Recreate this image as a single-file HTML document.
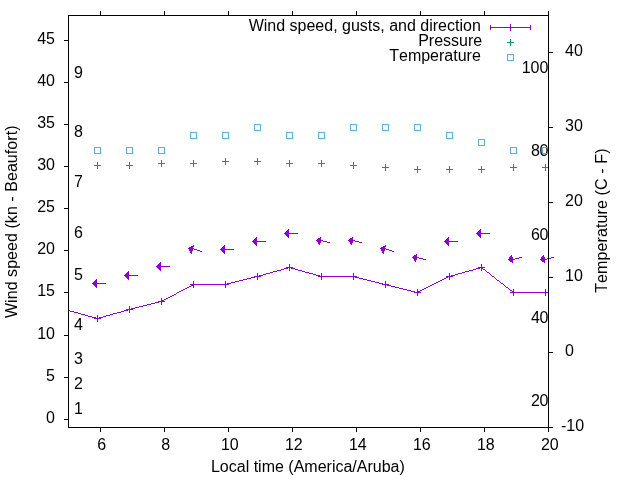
<!DOCTYPE html>
<html><head><meta charset="utf-8"><style>
html,body{margin:0;padding:0;background:#fff;}
svg{display:block;will-change:transform;}
text{font-family:"Liberation Sans",sans-serif;font-size:16px;fill:#000;font-kerning:none;font-feature-settings:"kern" 0;}
</style></head><body>
<svg width="640" height="480" viewBox="0 0 640 480">
<rect x="0" y="0" width="640" height="480" fill="#fff"/>
<g>
<text x="55.00" y="423.00" text-anchor="end">0</text><text x="55.00" y="381.00" text-anchor="end">5</text><text x="55.00" y="339.00" text-anchor="end">10</text><text x="55.00" y="296.00" text-anchor="end">15</text><text x="55.00" y="254.00" text-anchor="end">20</text><text x="55.00" y="212.00" text-anchor="end">25</text><text x="55.00" y="170.00" text-anchor="end">30</text><text x="55.00" y="128.00" text-anchor="end">35</text><text x="55.00" y="86.00" text-anchor="end">40</text><text x="55.00" y="44.00" text-anchor="end">45</text><text x="561.00" y="431.00" text-anchor="start">-10</text><text x="565.00" y="356.00" text-anchor="start">0</text><text x="565.00" y="281.00" text-anchor="start">10</text><text x="565.00" y="206.00" text-anchor="start">20</text><text x="565.00" y="131.00" text-anchor="start">30</text><text x="565.00" y="56.00" text-anchor="start">40</text><text x="101.80" y="450.00" text-anchor="middle">6</text><text x="165.80" y="450.00" text-anchor="middle">8</text><text x="229.80" y="450.00" text-anchor="middle">10</text><text x="293.80" y="450.00" text-anchor="middle">12</text><text x="357.80" y="450.00" text-anchor="middle">14</text><text x="421.80" y="450.00" text-anchor="middle">16</text><text x="485.80" y="450.00" text-anchor="middle">18</text><text x="549.80" y="450.00" text-anchor="middle">20</text><text x="74.00" y="414.00" text-anchor="start">1</text><text x="74.00" y="389.00" text-anchor="start">2</text><text x="74.00" y="364.00" text-anchor="start">3</text><text x="74.00" y="330.00" text-anchor="start">4</text><text x="74.00" y="280.00" text-anchor="start">5</text><text x="74.00" y="238.00" text-anchor="start">6</text><text x="74.00" y="187.00" text-anchor="start">7</text><text x="74.00" y="137.00" text-anchor="start">8</text><text x="74.00" y="78.00" text-anchor="start">9</text><text x="548.30" y="406.00" text-anchor="end" textLength="17.2" lengthAdjust="spacing">20</text><text x="548.30" y="323.00" text-anchor="end" textLength="17.2" lengthAdjust="spacing">40</text><text x="548.30" y="240.00" text-anchor="end" textLength="17.2" lengthAdjust="spacing">60</text><text x="548.30" y="156.00" text-anchor="end" textLength="17.2" lengthAdjust="spacing">80</text><text x="548.30" y="73.00" text-anchor="end" textLength="26.45" lengthAdjust="spacing">100</text><text x="307.90" y="472.00" text-anchor="middle">Local time (America/Aruba)</text><text transform="translate(17,221.8) rotate(-90)" text-anchor="middle" textLength="192.6" lengthAdjust="spacing">Wind speed (kn - Beaufort)</text><text transform="translate(607,220.65) rotate(-90)" text-anchor="middle" textLength="144.3" lengthAdjust="spacing">Temperature (C - F)</text><text x="480.80" y="31.00" text-anchor="end">Wind speed, gusts, and direction</text><text x="482.20" y="46.00" text-anchor="end">Pressure</text><text x="480.80" y="61.00" text-anchor="end">Temperature</text>
</g>
<g shape-rendering="crispEdges">
<path d="M510 24h1v1h-1zM490 25h1v1h-1zM510 25h1v1h-1zM530 25h1v1h-1zM490 26h1v1h-1zM510 26h1v1h-1zM530 26h1v1h-1zM490 27h41v1h-41zM490 28h1v1h-1zM510 28h1v1h-1zM530 28h1v1h-1zM490 29h1v1h-1zM510 29h1v1h-1zM530 29h1v1h-1zM510 30h1v1h-1zM288 229h1v1h-1zM480 229h1v1h-1zM287 230h2v1h-2zM479 230h2v1h-2zM286 231h3v1h-3zM478 231h3v1h-3zM285 232h4v1h-4zM477 232h4v1h-4zM284 233h14v1h-14zM476 233h14v1h-14zM285 234h4v1h-4zM477 234h4v1h-4zM286 235h3v1h-3zM478 235h3v1h-3zM287 236h2v1h-2zM479 236h2v1h-2zM256 237h1v1h-1zM288 237h1v1h-1zM320 237h1v1h-1zM352 237h1v1h-1zM448 237h1v1h-1zM480 237h1v1h-1zM255 238h2v1h-2zM318 238h3v1h-3zM350 238h3v1h-3zM447 238h2v1h-2zM254 239h3v1h-3zM317 239h4v1h-4zM349 239h4v1h-4zM446 239h3v1h-3zM253 240h4v1h-4zM316 240h7v1h-7zM348 240h7v1h-7zM445 240h4v1h-4zM252 241h14v1h-14zM317 241h4v1h-4zM323 241h4v1h-4zM349 241h4v1h-4zM355 241h4v1h-4zM444 241h14v1h-14zM253 242h4v1h-4zM318 242h3v1h-3zM327 242h3v1h-3zM350 242h3v1h-3zM359 242h3v1h-3zM445 242h4v1h-4zM254 243h3v1h-3zM318 243h2v1h-2zM350 243h2v1h-2zM446 243h3v1h-3zM255 244h2v1h-2zM319 244h1v1h-1zM351 244h1v1h-1zM447 244h2v1h-2zM193 245h1v1h-1zM224 245h1v1h-1zM256 245h1v1h-1zM385 245h1v1h-1zM448 245h1v1h-1zM191 246h3v1h-3zM223 246h2v1h-2zM383 246h3v1h-3zM189 247h4v1h-4zM222 247h3v1h-3zM381 247h4v1h-4zM188 248h6v1h-6zM221 248h4v1h-4zM380 248h6v1h-6zM189 249h4v1h-4zM194 249h3v1h-3zM220 249h14v1h-14zM381 249h4v1h-4zM386 249h3v1h-3zM189 250h4v1h-4zM197 250h3v1h-3zM221 250h4v1h-4zM381 250h4v1h-4zM389 250h3v1h-3zM190 251h2v1h-2zM200 251h2v1h-2zM222 251h3v1h-3zM382 251h2v1h-2zM392 251h2v1h-2zM190 252h2v1h-2zM223 252h2v1h-2zM382 252h2v1h-2zM191 253h1v1h-1zM224 253h1v1h-1zM383 253h1v1h-1zM416 254h1v1h-1zM414 255h3v1h-3zM511 255h1v1h-1zM543 255h1v1h-1zM413 256h4v1h-4zM510 256h2v1h-2zM542 256h2v1h-2zM412 257h7v1h-7zM509 257h4v1h-4zM519 257h3v1h-3zM541 257h4v1h-4zM551 257h3v1h-3zM413 258h4v1h-4zM419 258h4v1h-4zM509 258h4v1h-4zM515 258h4v1h-4zM541 258h4v1h-4zM547 258h4v1h-4zM414 259h3v1h-3zM423 259h3v1h-3zM508 259h7v1h-7zM540 259h7v1h-7zM414 260h2v1h-2zM509 260h4v1h-4zM541 260h4v1h-4zM415 261h1v1h-1zM510 261h3v1h-3zM542 261h3v1h-3zM160 262h1v1h-1zM512 262h1v1h-1zM544 262h1v1h-1zM159 263h2v1h-2zM158 264h3v1h-3zM289 264h1v1h-1zM481 264h1v1h-1zM157 265h4v1h-4zM289 265h1v1h-1zM481 265h1v1h-1zM156 266h14v1h-14zM289 266h1v1h-1zM481 266h1v1h-1zM157 267h4v1h-4zM286 267h7v1h-7zM478 267h7v1h-7zM158 268h3v1h-3zM284 268h4v1h-4zM289 268h1v1h-1zM291 268h4v1h-4zM476 268h4v1h-4zM481 268h2v1h-2zM159 269h2v1h-2zM281 269h3v1h-3zM289 269h1v1h-1zM295 269h3v1h-3zM473 269h3v1h-3zM481 269h1v1h-1zM483 269h2v1h-2zM160 270h1v1h-1zM277 270h4v1h-4zM289 270h1v1h-1zM298 270h4v1h-4zM469 270h4v1h-4zM481 270h1v1h-1zM485 270h1v1h-1zM128 271h1v1h-1zM273 271h4v1h-4zM302 271h3v1h-3zM465 271h4v1h-4zM486 271h1v1h-1zM127 272h2v1h-2zM270 272h3v1h-3zM305 272h4v1h-4zM462 272h3v1h-3zM487 272h2v1h-2zM126 273h3v1h-3zM257 273h1v1h-1zM266 273h4v1h-4zM309 273h4v1h-4zM321 273h1v1h-1zM353 273h1v1h-1zM449 273h1v1h-1zM458 273h4v1h-4zM489 273h1v1h-1zM125 274h4v1h-4zM257 274h1v1h-1zM263 274h3v1h-3zM313 274h3v1h-3zM321 274h1v1h-1zM353 274h1v1h-1zM449 274h1v1h-1zM455 274h3v1h-3zM490 274h1v1h-1zM124 275h14v1h-14zM257 275h1v1h-1zM259 275h4v1h-4zM316 275h4v1h-4zM321 275h1v1h-1zM353 275h1v1h-1zM449 275h1v1h-1zM451 275h4v1h-4zM491 275h1v1h-1zM125 276h4v1h-4zM254 276h7v1h-7zM318 276h39v1h-39zM446 276h7v1h-7zM492 276h2v1h-2zM126 277h3v1h-3zM251 277h4v1h-4zM257 277h1v1h-1zM321 277h1v1h-1zM353 277h1v1h-1zM355 277h4v1h-4zM446 277h2v1h-2zM449 277h1v1h-1zM494 277h1v1h-1zM127 278h2v1h-2zM247 278h4v1h-4zM257 278h1v1h-1zM321 278h1v1h-1zM353 278h1v1h-1zM359 278h4v1h-4zM444 278h2v1h-2zM449 278h1v1h-1zM495 278h1v1h-1zM96 279h1v1h-1zM128 279h1v1h-1zM243 279h4v1h-4zM257 279h1v1h-1zM321 279h1v1h-1zM353 279h1v1h-1zM363 279h4v1h-4zM442 279h2v1h-2zM449 279h1v1h-1zM496 279h1v1h-1zM95 280h2v1h-2zM239 280h4v1h-4zM367 280h4v1h-4zM440 280h2v1h-2zM497 280h2v1h-2zM94 281h3v1h-3zM193 281h1v1h-1zM225 281h1v1h-1zM235 281h4v1h-4zM371 281h4v1h-4zM385 281h1v1h-1zM438 281h2v1h-2zM499 281h1v1h-1zM93 282h4v1h-4zM193 282h1v1h-1zM225 282h1v1h-1zM231 282h4v1h-4zM375 282h4v1h-4zM385 282h1v1h-1zM436 282h2v1h-2zM500 282h1v1h-1zM92 283h14v1h-14zM193 283h1v1h-1zM225 283h1v1h-1zM227 283h4v1h-4zM379 283h4v1h-4zM385 283h1v1h-1zM434 283h2v1h-2zM501 283h2v1h-2zM93 284h4v1h-4zM190 284h39v1h-39zM382 284h7v1h-7zM432 284h2v1h-2zM503 284h1v1h-1zM94 285h3v1h-3zM191 285h3v1h-3zM225 285h1v1h-1zM385 285h1v1h-1zM387 285h4v1h-4zM430 285h2v1h-2zM504 285h1v1h-1zM95 286h2v1h-2zM189 286h2v1h-2zM193 286h1v1h-1zM225 286h1v1h-1zM385 286h1v1h-1zM391 286h4v1h-4zM428 286h2v1h-2zM505 286h1v1h-1zM96 287h1v1h-1zM187 287h2v1h-2zM193 287h1v1h-1zM225 287h1v1h-1zM385 287h1v1h-1zM395 287h4v1h-4zM426 287h2v1h-2zM506 287h2v1h-2zM185 288h2v1h-2zM399 288h4v1h-4zM424 288h2v1h-2zM508 288h1v1h-1zM183 289h2v1h-2zM403 289h4v1h-4zM417 289h1v1h-1zM422 289h2v1h-2zM509 289h1v1h-1zM513 289h1v1h-1zM545 289h1v1h-1zM181 290h2v1h-2zM407 290h4v1h-4zM417 290h1v1h-1zM420 290h2v1h-2zM510 290h2v1h-2zM513 290h1v1h-1zM545 290h1v1h-1zM179 291h2v1h-2zM411 291h4v1h-4zM417 291h3v1h-3zM512 291h2v1h-2zM545 291h1v1h-1zM177 292h2v1h-2zM414 292h7v1h-7zM510 292h39v1h-39zM176 293h1v1h-1zM417 293h1v1h-1zM513 293h1v1h-1zM545 293h1v1h-1zM174 294h2v1h-2zM417 294h1v1h-1zM513 294h1v1h-1zM545 294h1v1h-1zM172 295h2v1h-2zM417 295h1v1h-1zM513 295h1v1h-1zM545 295h1v1h-1zM170 296h2v1h-2zM168 297h2v1h-2zM161 298h1v1h-1zM166 298h2v1h-2zM161 299h1v1h-1zM164 299h2v1h-2zM161 300h3v1h-3zM158 301h7v1h-7zM155 302h4v1h-4zM161 302h1v1h-1zM151 303h4v1h-4zM161 303h1v1h-1zM147 304h4v1h-4zM161 304h1v1h-1zM143 305h4v1h-4zM129 306h1v1h-1zM139 306h4v1h-4zM129 307h1v1h-1zM135 307h4v1h-4zM129 308h1v1h-1zM131 308h4v1h-4zM126 309h7v1h-7zM68 310h2v1h-2zM124 310h4v1h-4zM129 310h1v1h-1zM70 311h4v1h-4zM121 311h3v1h-3zM129 311h1v1h-1zM74 312h4v1h-4zM117 312h4v1h-4zM129 312h1v1h-1zM78 313h3v1h-3zM113 313h4v1h-4zM81 314h4v1h-4zM110 314h3v1h-3zM85 315h3v1h-3zM97 315h1v1h-1zM106 315h4v1h-4zM88 316h4v1h-4zM97 316h1v1h-1zM103 316h3v1h-3zM92 317h4v1h-4zM97 317h1v1h-1zM99 317h4v1h-4zM94 318h7v1h-7zM97 319h1v1h-1zM97 320h1v1h-1zM97 321h1v1h-1z" fill="#9400d3"/><path d="M510 39h1v1h-1zM510 40h1v1h-1zM510 41h1v1h-1zM507 42h7v1h-7zM510 43h1v1h-1zM510 44h1v1h-1zM510 45h1v1h-1zM225 158h1v1h-1zM257 158h1v1h-1zM225 159h1v1h-1zM257 159h1v1h-1zM161 160h1v1h-1zM193 160h1v1h-1zM225 160h1v1h-1zM257 160h1v1h-1zM289 160h1v1h-1zM321 160h1v1h-1zM161 161h1v1h-1zM193 161h1v1h-1zM222 161h7v1h-7zM254 161h7v1h-7zM289 161h1v1h-1zM321 161h1v1h-1zM97 162h1v1h-1zM129 162h1v1h-1zM161 162h1v1h-1zM193 162h1v1h-1zM225 162h1v1h-1zM257 162h1v1h-1zM289 162h1v1h-1zM321 162h1v1h-1zM353 162h1v1h-1zM97 163h1v1h-1zM129 163h1v1h-1zM158 163h7v1h-7zM190 163h7v1h-7zM225 163h1v1h-1zM257 163h1v1h-1zM286 163h7v1h-7zM318 163h7v1h-7zM353 163h1v1h-1zM97 164h1v1h-1zM129 164h1v1h-1zM161 164h1v1h-1zM193 164h1v1h-1zM225 164h1v1h-1zM257 164h1v1h-1zM289 164h1v1h-1zM321 164h1v1h-1zM353 164h1v1h-1zM385 164h1v1h-1zM513 164h1v1h-1zM545 164h1v1h-1zM94 165h7v1h-7zM126 165h7v1h-7zM161 165h1v1h-1zM193 165h1v1h-1zM289 165h1v1h-1zM321 165h1v1h-1zM350 165h7v1h-7zM385 165h1v1h-1zM513 165h1v1h-1zM545 165h1v1h-1zM97 166h1v1h-1zM129 166h1v1h-1zM161 166h1v1h-1zM193 166h1v1h-1zM289 166h1v1h-1zM321 166h1v1h-1zM353 166h1v1h-1zM385 166h1v1h-1zM417 166h1v1h-1zM449 166h1v1h-1zM481 166h1v1h-1zM513 166h1v1h-1zM545 166h1v1h-1zM97 167h1v1h-1zM129 167h1v1h-1zM353 167h1v1h-1zM382 167h7v1h-7zM417 167h1v1h-1zM449 167h1v1h-1zM481 167h1v1h-1zM510 167h7v1h-7zM542 167h7v1h-7zM97 168h1v1h-1zM129 168h1v1h-1zM353 168h1v1h-1zM385 168h1v1h-1zM417 168h1v1h-1zM449 168h1v1h-1zM481 168h1v1h-1zM513 168h1v1h-1zM545 168h1v1h-1zM385 169h1v1h-1zM414 169h7v1h-7zM446 169h7v1h-7zM478 169h7v1h-7zM513 169h1v1h-1zM545 169h1v1h-1zM385 170h1v1h-1zM417 170h1v1h-1zM449 170h1v1h-1zM481 170h1v1h-1zM513 170h1v1h-1zM545 170h1v1h-1zM417 171h1v1h-1zM449 171h1v1h-1zM481 171h1v1h-1zM417 172h1v1h-1zM449 172h1v1h-1zM481 172h1v1h-1z" fill="#009e73"/><path d="M507 54h7v1h-7zM507 55h1v1h-1zM513 55h1v1h-1zM507 56h1v1h-1zM513 56h1v1h-1zM507 57h1v1h-1zM513 57h1v1h-1zM507 58h1v1h-1zM513 58h1v1h-1zM507 59h1v1h-1zM513 59h1v1h-1zM507 60h7v1h-7zM254 124h7v1h-7zM350 124h7v1h-7zM382 124h7v1h-7zM414 124h7v1h-7zM254 125h1v1h-1zM260 125h1v1h-1zM350 125h1v1h-1zM356 125h1v1h-1zM382 125h1v1h-1zM388 125h1v1h-1zM414 125h1v1h-1zM420 125h1v1h-1zM254 126h1v1h-1zM260 126h1v1h-1zM350 126h1v1h-1zM356 126h1v1h-1zM382 126h1v1h-1zM388 126h1v1h-1zM414 126h1v1h-1zM420 126h1v1h-1zM254 127h1v1h-1zM260 127h1v1h-1zM350 127h1v1h-1zM356 127h1v1h-1zM382 127h1v1h-1zM388 127h1v1h-1zM414 127h1v1h-1zM420 127h1v1h-1zM254 128h1v1h-1zM260 128h1v1h-1zM350 128h1v1h-1zM356 128h1v1h-1zM382 128h1v1h-1zM388 128h1v1h-1zM414 128h1v1h-1zM420 128h1v1h-1zM254 129h1v1h-1zM260 129h1v1h-1zM350 129h1v1h-1zM356 129h1v1h-1zM382 129h1v1h-1zM388 129h1v1h-1zM414 129h1v1h-1zM420 129h1v1h-1zM254 130h7v1h-7zM350 130h7v1h-7zM382 130h7v1h-7zM414 130h7v1h-7zM190 132h7v1h-7zM222 132h7v1h-7zM286 132h7v1h-7zM318 132h7v1h-7zM446 132h7v1h-7zM190 133h1v1h-1zM196 133h1v1h-1zM222 133h1v1h-1zM228 133h1v1h-1zM286 133h1v1h-1zM292 133h1v1h-1zM318 133h1v1h-1zM324 133h1v1h-1zM446 133h1v1h-1zM452 133h1v1h-1zM190 134h1v1h-1zM196 134h1v1h-1zM222 134h1v1h-1zM228 134h1v1h-1zM286 134h1v1h-1zM292 134h1v1h-1zM318 134h1v1h-1zM324 134h1v1h-1zM446 134h1v1h-1zM452 134h1v1h-1zM190 135h1v1h-1zM196 135h1v1h-1zM222 135h1v1h-1zM228 135h1v1h-1zM286 135h1v1h-1zM292 135h1v1h-1zM318 135h1v1h-1zM324 135h1v1h-1zM446 135h1v1h-1zM452 135h1v1h-1zM190 136h1v1h-1zM196 136h1v1h-1zM222 136h1v1h-1zM228 136h1v1h-1zM286 136h1v1h-1zM292 136h1v1h-1zM318 136h1v1h-1zM324 136h1v1h-1zM446 136h1v1h-1zM452 136h1v1h-1zM190 137h1v1h-1zM196 137h1v1h-1zM222 137h1v1h-1zM228 137h1v1h-1zM286 137h1v1h-1zM292 137h1v1h-1zM318 137h1v1h-1zM324 137h1v1h-1zM446 137h1v1h-1zM452 137h1v1h-1zM190 138h7v1h-7zM222 138h7v1h-7zM286 138h7v1h-7zM318 138h7v1h-7zM446 138h7v1h-7zM478 139h7v1h-7zM478 140h1v1h-1zM484 140h1v1h-1zM478 141h1v1h-1zM484 141h1v1h-1zM478 142h1v1h-1zM484 142h1v1h-1zM478 143h1v1h-1zM484 143h1v1h-1zM478 144h1v1h-1zM484 144h1v1h-1zM478 145h7v1h-7zM94 147h7v1h-7zM126 147h7v1h-7zM158 147h7v1h-7zM510 147h7v1h-7zM542 147h7v1h-7zM94 148h1v1h-1zM100 148h1v1h-1zM126 148h1v1h-1zM132 148h1v1h-1zM158 148h1v1h-1zM164 148h1v1h-1zM510 148h1v1h-1zM516 148h1v1h-1zM542 148h1v1h-1zM548 148h1v1h-1zM94 149h1v1h-1zM100 149h1v1h-1zM126 149h1v1h-1zM132 149h1v1h-1zM158 149h1v1h-1zM164 149h1v1h-1zM510 149h1v1h-1zM516 149h1v1h-1zM542 149h1v1h-1zM548 149h1v1h-1zM94 150h1v1h-1zM100 150h1v1h-1zM126 150h1v1h-1zM132 150h1v1h-1zM158 150h1v1h-1zM164 150h1v1h-1zM510 150h1v1h-1zM516 150h1v1h-1zM542 150h1v1h-1zM548 150h1v1h-1zM94 151h1v1h-1zM100 151h1v1h-1zM126 151h1v1h-1zM132 151h1v1h-1zM158 151h1v1h-1zM164 151h1v1h-1zM510 151h1v1h-1zM516 151h1v1h-1zM542 151h1v1h-1zM548 151h1v1h-1zM94 152h1v1h-1zM100 152h1v1h-1zM126 152h1v1h-1zM132 152h1v1h-1zM158 152h1v1h-1zM164 152h1v1h-1zM510 152h1v1h-1zM516 152h1v1h-1zM542 152h1v1h-1zM548 152h1v1h-1zM94 153h7v1h-7zM126 153h7v1h-7zM158 153h7v1h-7zM510 153h7v1h-7zM542 153h7v1h-7z" fill="#56b4e9"/><path d="M100 11h1v1h-1zM164 11h1v1h-1zM228 11h1v1h-1zM292 11h1v1h-1zM356 11h1v1h-1zM420 11h1v1h-1zM484 11h1v1h-1zM548 11h1v1h-1zM100 12h1v1h-1zM164 12h1v1h-1zM228 12h1v1h-1zM292 12h1v1h-1zM356 12h1v1h-1zM420 12h1v1h-1zM484 12h1v1h-1zM548 12h1v1h-1zM100 13h1v1h-1zM164 13h1v1h-1zM228 13h1v1h-1zM292 13h1v1h-1zM356 13h1v1h-1zM420 13h1v1h-1zM484 13h1v1h-1zM548 13h1v1h-1zM100 14h1v1h-1zM164 14h1v1h-1zM228 14h1v1h-1zM292 14h1v1h-1zM356 14h1v1h-1zM420 14h1v1h-1zM484 14h1v1h-1zM548 14h1v1h-1zM68 15h481v1h-481zM68 16h1v1h-1zM548 16h1v1h-1zM68 17h1v1h-1zM548 17h1v1h-1zM68 18h1v1h-1zM548 18h1v1h-1zM68 19h1v1h-1zM548 19h1v1h-1zM68 20h1v1h-1zM548 20h1v1h-1zM68 21h1v1h-1zM548 21h1v1h-1zM68 22h1v1h-1zM548 22h1v1h-1zM68 23h1v1h-1zM548 23h1v1h-1zM68 24h1v1h-1zM548 24h1v1h-1zM68 25h1v1h-1zM548 25h1v1h-1zM68 26h1v1h-1zM548 26h1v1h-1zM68 27h1v1h-1zM548 27h1v1h-1zM68 28h1v1h-1zM548 28h1v1h-1zM68 29h1v1h-1zM548 29h1v1h-1zM68 30h1v1h-1zM548 30h1v1h-1zM68 31h1v1h-1zM548 31h1v1h-1zM68 32h1v1h-1zM548 32h1v1h-1zM68 33h1v1h-1zM548 33h1v1h-1zM68 34h1v1h-1zM548 34h1v1h-1zM68 35h1v1h-1zM548 35h1v1h-1zM68 36h1v1h-1zM548 36h1v1h-1zM68 37h1v1h-1zM548 37h1v1h-1zM68 38h1v1h-1zM548 38h1v1h-1zM68 39h1v1h-1zM548 39h1v1h-1zM64 40h5v1h-5zM548 40h1v1h-1zM68 41h1v1h-1zM548 41h1v1h-1zM68 42h1v1h-1zM548 42h1v1h-1zM68 43h1v1h-1zM548 43h1v1h-1zM68 44h1v1h-1zM548 44h1v1h-1zM68 45h1v1h-1zM548 45h1v1h-1zM68 46h1v1h-1zM548 46h1v1h-1zM68 47h1v1h-1zM548 47h1v1h-1zM68 48h1v1h-1zM548 48h1v1h-1zM68 49h1v1h-1zM548 49h1v1h-1zM68 50h1v1h-1zM548 50h1v1h-1zM68 51h1v1h-1zM548 51h1v1h-1zM68 52h1v1h-1zM548 52h5v1h-5zM68 53h1v1h-1zM548 53h1v1h-1zM68 54h1v1h-1zM548 54h1v1h-1zM68 55h1v1h-1zM548 55h1v1h-1zM68 56h1v1h-1zM548 56h1v1h-1zM68 57h1v1h-1zM548 57h1v1h-1zM68 58h1v1h-1zM548 58h1v1h-1zM68 59h1v1h-1zM548 59h1v1h-1zM68 60h1v1h-1zM548 60h1v1h-1zM68 61h1v1h-1zM548 61h1v1h-1zM68 62h1v1h-1zM548 62h1v1h-1zM68 63h1v1h-1zM548 63h1v1h-1zM68 64h1v1h-1zM548 64h1v1h-1zM68 65h1v1h-1zM548 65h1v1h-1zM68 66h1v1h-1zM548 66h1v1h-1zM68 67h1v1h-1zM548 67h1v1h-1zM68 68h1v1h-1zM548 68h1v1h-1zM68 69h1v1h-1zM548 69h1v1h-1zM68 70h1v1h-1zM548 70h1v1h-1zM68 71h1v1h-1zM548 71h1v1h-1zM68 72h1v1h-1zM548 72h1v1h-1zM68 73h1v1h-1zM548 73h1v1h-1zM68 74h1v1h-1zM548 74h1v1h-1zM68 75h1v1h-1zM548 75h1v1h-1zM68 76h1v1h-1zM548 76h1v1h-1zM68 77h1v1h-1zM548 77h1v1h-1zM68 78h1v1h-1zM548 78h1v1h-1zM68 79h1v1h-1zM548 79h1v1h-1zM68 80h1v1h-1zM548 80h1v1h-1zM68 81h1v1h-1zM548 81h1v1h-1zM64 82h5v1h-5zM548 82h1v1h-1zM68 83h1v1h-1zM548 83h1v1h-1zM68 84h1v1h-1zM548 84h1v1h-1zM68 85h1v1h-1zM548 85h1v1h-1zM68 86h1v1h-1zM548 86h1v1h-1zM68 87h1v1h-1zM548 87h1v1h-1zM68 88h1v1h-1zM548 88h1v1h-1zM68 89h1v1h-1zM548 89h1v1h-1zM68 90h1v1h-1zM548 90h1v1h-1zM68 91h1v1h-1zM548 91h1v1h-1zM68 92h1v1h-1zM548 92h1v1h-1zM68 93h1v1h-1zM548 93h1v1h-1zM68 94h1v1h-1zM548 94h1v1h-1zM68 95h1v1h-1zM548 95h1v1h-1zM68 96h1v1h-1zM548 96h1v1h-1zM68 97h1v1h-1zM548 97h1v1h-1zM68 98h1v1h-1zM548 98h1v1h-1zM68 99h1v1h-1zM548 99h1v1h-1zM68 100h1v1h-1zM548 100h1v1h-1zM68 101h1v1h-1zM548 101h1v1h-1zM68 102h1v1h-1zM548 102h1v1h-1zM68 103h1v1h-1zM548 103h1v1h-1zM68 104h1v1h-1zM548 104h1v1h-1zM68 105h1v1h-1zM548 105h1v1h-1zM68 106h1v1h-1zM548 106h1v1h-1zM68 107h1v1h-1zM548 107h1v1h-1zM68 108h1v1h-1zM548 108h1v1h-1zM68 109h1v1h-1zM548 109h1v1h-1zM68 110h1v1h-1zM548 110h1v1h-1zM68 111h1v1h-1zM548 111h1v1h-1zM68 112h1v1h-1zM548 112h1v1h-1zM68 113h1v1h-1zM548 113h1v1h-1zM68 114h1v1h-1zM548 114h1v1h-1zM68 115h1v1h-1zM548 115h1v1h-1zM68 116h1v1h-1zM548 116h1v1h-1zM68 117h1v1h-1zM548 117h1v1h-1zM68 118h1v1h-1zM548 118h1v1h-1zM68 119h1v1h-1zM548 119h1v1h-1zM68 120h1v1h-1zM548 120h1v1h-1zM68 121h1v1h-1zM548 121h1v1h-1zM68 122h1v1h-1zM548 122h1v1h-1zM68 123h1v1h-1zM548 123h1v1h-1zM64 124h5v1h-5zM548 124h1v1h-1zM68 125h1v1h-1zM548 125h1v1h-1zM68 126h1v1h-1zM548 126h1v1h-1zM68 127h1v1h-1zM548 127h5v1h-5zM68 128h1v1h-1zM548 128h1v1h-1zM68 129h1v1h-1zM548 129h1v1h-1zM68 130h1v1h-1zM548 130h1v1h-1zM68 131h1v1h-1zM548 131h1v1h-1zM68 132h1v1h-1zM548 132h1v1h-1zM68 133h1v1h-1zM548 133h1v1h-1zM68 134h1v1h-1zM548 134h1v1h-1zM68 135h1v1h-1zM548 135h1v1h-1zM68 136h1v1h-1zM548 136h1v1h-1zM68 137h1v1h-1zM548 137h1v1h-1zM68 138h1v1h-1zM548 138h1v1h-1zM68 139h1v1h-1zM548 139h1v1h-1zM68 140h1v1h-1zM548 140h1v1h-1zM68 141h1v1h-1zM548 141h1v1h-1zM68 142h1v1h-1zM548 142h1v1h-1zM68 143h1v1h-1zM548 143h1v1h-1zM68 144h1v1h-1zM548 144h1v1h-1zM68 145h1v1h-1zM548 145h1v1h-1zM68 146h1v1h-1zM548 146h1v1h-1zM68 147h1v1h-1zM548 147h1v1h-1zM68 148h1v1h-1zM548 148h1v1h-1zM68 149h1v1h-1zM548 149h1v1h-1zM68 150h1v1h-1zM548 150h1v1h-1zM68 151h1v1h-1zM548 151h1v1h-1zM68 152h1v1h-1zM548 152h1v1h-1zM68 153h1v1h-1zM548 153h1v1h-1zM68 154h1v1h-1zM548 154h1v1h-1zM68 155h1v1h-1zM548 155h1v1h-1zM68 156h1v1h-1zM548 156h1v1h-1zM68 157h1v1h-1zM548 157h1v1h-1zM68 158h1v1h-1zM548 158h1v1h-1zM68 159h1v1h-1zM548 159h1v1h-1zM68 160h1v1h-1zM548 160h1v1h-1zM68 161h1v1h-1zM548 161h1v1h-1zM68 162h1v1h-1zM548 162h1v1h-1zM68 163h1v1h-1zM548 163h1v1h-1zM68 164h1v1h-1zM548 164h1v1h-1zM68 165h1v1h-1zM548 165h1v1h-1zM64 166h5v1h-5zM548 166h1v1h-1zM68 167h1v1h-1zM548 167h1v1h-1zM68 168h1v1h-1zM548 168h1v1h-1zM68 169h1v1h-1zM548 169h1v1h-1zM68 170h1v1h-1zM548 170h1v1h-1zM68 171h1v1h-1zM548 171h1v1h-1zM68 172h1v1h-1zM548 172h1v1h-1zM68 173h1v1h-1zM548 173h1v1h-1zM68 174h1v1h-1zM548 174h1v1h-1zM68 175h1v1h-1zM548 175h1v1h-1zM68 176h1v1h-1zM548 176h1v1h-1zM68 177h1v1h-1zM548 177h1v1h-1zM68 178h1v1h-1zM548 178h1v1h-1zM68 179h1v1h-1zM548 179h1v1h-1zM68 180h1v1h-1zM548 180h1v1h-1zM68 181h1v1h-1zM548 181h1v1h-1zM68 182h1v1h-1zM548 182h1v1h-1zM68 183h1v1h-1zM548 183h1v1h-1zM68 184h1v1h-1zM548 184h1v1h-1zM68 185h1v1h-1zM548 185h1v1h-1zM68 186h1v1h-1zM548 186h1v1h-1zM68 187h1v1h-1zM548 187h1v1h-1zM68 188h1v1h-1zM548 188h1v1h-1zM68 189h1v1h-1zM548 189h1v1h-1zM68 190h1v1h-1zM548 190h1v1h-1zM68 191h1v1h-1zM548 191h1v1h-1zM68 192h1v1h-1zM548 192h1v1h-1zM68 193h1v1h-1zM548 193h1v1h-1zM68 194h1v1h-1zM548 194h1v1h-1zM68 195h1v1h-1zM548 195h1v1h-1zM68 196h1v1h-1zM548 196h1v1h-1zM68 197h1v1h-1zM548 197h1v1h-1zM68 198h1v1h-1zM548 198h1v1h-1zM68 199h1v1h-1zM548 199h1v1h-1zM68 200h1v1h-1zM548 200h1v1h-1zM68 201h1v1h-1zM548 201h1v1h-1zM68 202h1v1h-1zM548 202h5v1h-5zM68 203h1v1h-1zM548 203h1v1h-1zM68 204h1v1h-1zM548 204h1v1h-1zM68 205h1v1h-1zM548 205h1v1h-1zM68 206h1v1h-1zM548 206h1v1h-1zM68 207h1v1h-1zM548 207h1v1h-1zM64 208h5v1h-5zM548 208h1v1h-1zM68 209h1v1h-1zM548 209h1v1h-1zM68 210h1v1h-1zM548 210h1v1h-1zM68 211h1v1h-1zM548 211h1v1h-1zM68 212h1v1h-1zM548 212h1v1h-1zM68 213h1v1h-1zM548 213h1v1h-1zM68 214h1v1h-1zM548 214h1v1h-1zM68 215h1v1h-1zM548 215h1v1h-1zM68 216h1v1h-1zM548 216h1v1h-1zM68 217h1v1h-1zM548 217h1v1h-1zM68 218h1v1h-1zM548 218h1v1h-1zM68 219h1v1h-1zM548 219h1v1h-1zM68 220h1v1h-1zM548 220h1v1h-1zM68 221h1v1h-1zM548 221h1v1h-1zM68 222h1v1h-1zM548 222h1v1h-1zM68 223h1v1h-1zM548 223h1v1h-1zM68 224h1v1h-1zM548 224h1v1h-1zM68 225h1v1h-1zM548 225h1v1h-1zM68 226h1v1h-1zM548 226h1v1h-1zM68 227h1v1h-1zM548 227h1v1h-1zM68 228h1v1h-1zM548 228h1v1h-1zM68 229h1v1h-1zM548 229h1v1h-1zM68 230h1v1h-1zM548 230h1v1h-1zM68 231h1v1h-1zM548 231h1v1h-1zM68 232h1v1h-1zM548 232h1v1h-1zM68 233h1v1h-1zM548 233h1v1h-1zM68 234h1v1h-1zM548 234h1v1h-1zM68 235h1v1h-1zM548 235h1v1h-1zM68 236h1v1h-1zM548 236h1v1h-1zM68 237h1v1h-1zM548 237h1v1h-1zM68 238h1v1h-1zM548 238h1v1h-1zM68 239h1v1h-1zM548 239h1v1h-1zM68 240h1v1h-1zM548 240h1v1h-1zM68 241h1v1h-1zM548 241h1v1h-1zM68 242h1v1h-1zM548 242h1v1h-1zM68 243h1v1h-1zM548 243h1v1h-1zM68 244h1v1h-1zM548 244h1v1h-1zM68 245h1v1h-1zM548 245h1v1h-1zM68 246h1v1h-1zM548 246h1v1h-1zM68 247h1v1h-1zM548 247h1v1h-1zM68 248h1v1h-1zM548 248h1v1h-1zM68 249h1v1h-1zM548 249h1v1h-1zM64 250h5v1h-5zM548 250h1v1h-1zM68 251h1v1h-1zM548 251h1v1h-1zM68 252h1v1h-1zM548 252h1v1h-1zM68 253h1v1h-1zM548 253h1v1h-1zM68 254h1v1h-1zM548 254h1v1h-1zM68 255h1v1h-1zM548 255h1v1h-1zM68 256h1v1h-1zM548 256h1v1h-1zM68 257h1v1h-1zM548 257h1v1h-1zM68 258h1v1h-1zM548 258h1v1h-1zM68 259h1v1h-1zM548 259h1v1h-1zM68 260h1v1h-1zM548 260h1v1h-1zM68 261h1v1h-1zM548 261h1v1h-1zM68 262h1v1h-1zM548 262h1v1h-1zM68 263h1v1h-1zM548 263h1v1h-1zM68 264h1v1h-1zM548 264h1v1h-1zM68 265h1v1h-1zM548 265h1v1h-1zM68 266h1v1h-1zM548 266h1v1h-1zM68 267h1v1h-1zM548 267h1v1h-1zM68 268h1v1h-1zM548 268h1v1h-1zM68 269h1v1h-1zM548 269h1v1h-1zM68 270h1v1h-1zM548 270h1v1h-1zM68 271h1v1h-1zM548 271h1v1h-1zM68 272h1v1h-1zM548 272h1v1h-1zM68 273h1v1h-1zM548 273h1v1h-1zM68 274h1v1h-1zM548 274h1v1h-1zM68 275h1v1h-1zM548 275h1v1h-1zM68 276h1v1h-1zM548 276h1v1h-1zM68 277h1v1h-1zM548 277h5v1h-5zM68 278h1v1h-1zM548 278h1v1h-1zM68 279h1v1h-1zM548 279h1v1h-1zM68 280h1v1h-1zM548 280h1v1h-1zM68 281h1v1h-1zM548 281h1v1h-1zM68 282h1v1h-1zM548 282h1v1h-1zM68 283h1v1h-1zM548 283h1v1h-1zM68 284h1v1h-1zM548 284h1v1h-1zM68 285h1v1h-1zM548 285h1v1h-1zM68 286h1v1h-1zM548 286h1v1h-1zM68 287h1v1h-1zM548 287h1v1h-1zM68 288h1v1h-1zM548 288h1v1h-1zM68 289h1v1h-1zM548 289h1v1h-1zM68 290h1v1h-1zM548 290h1v1h-1zM68 291h1v1h-1zM548 291h1v1h-1zM64 292h5v1h-5zM548 292h1v1h-1zM68 293h1v1h-1zM548 293h1v1h-1zM68 294h1v1h-1zM548 294h1v1h-1zM68 295h1v1h-1zM548 295h1v1h-1zM68 296h1v1h-1zM548 296h1v1h-1zM68 297h1v1h-1zM548 297h1v1h-1zM68 298h1v1h-1zM548 298h1v1h-1zM68 299h1v1h-1zM548 299h1v1h-1zM68 300h1v1h-1zM548 300h1v1h-1zM68 301h1v1h-1zM548 301h1v1h-1zM68 302h1v1h-1zM548 302h1v1h-1zM68 303h1v1h-1zM548 303h1v1h-1zM68 304h1v1h-1zM548 304h1v1h-1zM68 305h1v1h-1zM548 305h1v1h-1zM68 306h1v1h-1zM548 306h1v1h-1zM68 307h1v1h-1zM548 307h1v1h-1zM68 308h1v1h-1zM548 308h1v1h-1zM68 309h1v1h-1zM548 309h1v1h-1zM68 310h1v1h-1zM548 310h1v1h-1zM68 311h1v1h-1zM548 311h1v1h-1zM68 312h1v1h-1zM548 312h1v1h-1zM68 313h1v1h-1zM548 313h1v1h-1zM68 314h1v1h-1zM548 314h1v1h-1zM68 315h1v1h-1zM548 315h1v1h-1zM68 316h1v1h-1zM548 316h1v1h-1zM68 317h1v1h-1zM548 317h1v1h-1zM68 318h1v1h-1zM548 318h1v1h-1zM68 319h1v1h-1zM548 319h1v1h-1zM68 320h1v1h-1zM548 320h1v1h-1zM68 321h1v1h-1zM548 321h1v1h-1zM68 322h1v1h-1zM548 322h1v1h-1zM68 323h1v1h-1zM548 323h1v1h-1zM68 324h1v1h-1zM548 324h1v1h-1zM68 325h1v1h-1zM548 325h1v1h-1zM68 326h1v1h-1zM548 326h1v1h-1zM68 327h1v1h-1zM548 327h1v1h-1zM68 328h1v1h-1zM548 328h1v1h-1zM68 329h1v1h-1zM548 329h1v1h-1zM68 330h1v1h-1zM548 330h1v1h-1zM68 331h1v1h-1zM548 331h1v1h-1zM68 332h1v1h-1zM548 332h1v1h-1zM68 333h1v1h-1zM548 333h1v1h-1zM68 334h1v1h-1zM548 334h1v1h-1zM64 335h5v1h-5zM548 335h1v1h-1zM68 336h1v1h-1zM548 336h1v1h-1zM68 337h1v1h-1zM548 337h1v1h-1zM68 338h1v1h-1zM548 338h1v1h-1zM68 339h1v1h-1zM548 339h1v1h-1zM68 340h1v1h-1zM548 340h1v1h-1zM68 341h1v1h-1zM548 341h1v1h-1zM68 342h1v1h-1zM548 342h1v1h-1zM68 343h1v1h-1zM548 343h1v1h-1zM68 344h1v1h-1zM548 344h1v1h-1zM68 345h1v1h-1zM548 345h1v1h-1zM68 346h1v1h-1zM548 346h1v1h-1zM68 347h1v1h-1zM548 347h1v1h-1zM68 348h1v1h-1zM548 348h1v1h-1zM68 349h1v1h-1zM548 349h1v1h-1zM68 350h1v1h-1zM548 350h1v1h-1zM68 351h1v1h-1zM548 351h1v1h-1zM68 352h1v1h-1zM548 352h5v1h-5zM68 353h1v1h-1zM548 353h1v1h-1zM68 354h1v1h-1zM548 354h1v1h-1zM68 355h1v1h-1zM548 355h1v1h-1zM68 356h1v1h-1zM548 356h1v1h-1zM68 357h1v1h-1zM548 357h1v1h-1zM68 358h1v1h-1zM548 358h1v1h-1zM68 359h1v1h-1zM548 359h1v1h-1zM68 360h1v1h-1zM548 360h1v1h-1zM68 361h1v1h-1zM548 361h1v1h-1zM68 362h1v1h-1zM548 362h1v1h-1zM68 363h1v1h-1zM548 363h1v1h-1zM68 364h1v1h-1zM548 364h1v1h-1zM68 365h1v1h-1zM548 365h1v1h-1zM68 366h1v1h-1zM548 366h1v1h-1zM68 367h1v1h-1zM548 367h1v1h-1zM68 368h1v1h-1zM548 368h1v1h-1zM68 369h1v1h-1zM548 369h1v1h-1zM68 370h1v1h-1zM548 370h1v1h-1zM68 371h1v1h-1zM548 371h1v1h-1zM68 372h1v1h-1zM548 372h1v1h-1zM68 373h1v1h-1zM548 373h1v1h-1zM68 374h1v1h-1zM548 374h1v1h-1zM68 375h1v1h-1zM548 375h1v1h-1zM68 376h1v1h-1zM548 376h1v1h-1zM64 377h5v1h-5zM548 377h1v1h-1zM68 378h1v1h-1zM548 378h1v1h-1zM68 379h1v1h-1zM548 379h1v1h-1zM68 380h1v1h-1zM548 380h1v1h-1zM68 381h1v1h-1zM548 381h1v1h-1zM68 382h1v1h-1zM548 382h1v1h-1zM68 383h1v1h-1zM548 383h1v1h-1zM68 384h1v1h-1zM548 384h1v1h-1zM68 385h1v1h-1zM548 385h1v1h-1zM68 386h1v1h-1zM548 386h1v1h-1zM68 387h1v1h-1zM548 387h1v1h-1zM68 388h1v1h-1zM548 388h1v1h-1zM68 389h1v1h-1zM548 389h1v1h-1zM68 390h1v1h-1zM548 390h1v1h-1zM68 391h1v1h-1zM548 391h1v1h-1zM68 392h1v1h-1zM548 392h1v1h-1zM68 393h1v1h-1zM548 393h1v1h-1zM68 394h1v1h-1zM548 394h1v1h-1zM68 395h1v1h-1zM548 395h1v1h-1zM68 396h1v1h-1zM548 396h1v1h-1zM68 397h1v1h-1zM548 397h1v1h-1zM68 398h1v1h-1zM548 398h1v1h-1zM68 399h1v1h-1zM548 399h1v1h-1zM68 400h1v1h-1zM548 400h1v1h-1zM68 401h1v1h-1zM548 401h1v1h-1zM68 402h1v1h-1zM548 402h1v1h-1zM68 403h1v1h-1zM548 403h1v1h-1zM68 404h1v1h-1zM548 404h1v1h-1zM68 405h1v1h-1zM548 405h1v1h-1zM68 406h1v1h-1zM548 406h1v1h-1zM68 407h1v1h-1zM548 407h1v1h-1zM68 408h1v1h-1zM548 408h1v1h-1zM68 409h1v1h-1zM548 409h1v1h-1zM68 410h1v1h-1zM548 410h1v1h-1zM68 411h1v1h-1zM548 411h1v1h-1zM68 412h1v1h-1zM548 412h1v1h-1zM68 413h1v1h-1zM548 413h1v1h-1zM68 414h1v1h-1zM548 414h1v1h-1zM68 415h1v1h-1zM548 415h1v1h-1zM68 416h1v1h-1zM548 416h1v1h-1zM68 417h1v1h-1zM548 417h1v1h-1zM68 418h1v1h-1zM548 418h1v1h-1zM64 419h5v1h-5zM548 419h1v1h-1zM68 420h1v1h-1zM548 420h1v1h-1zM68 421h1v1h-1zM548 421h1v1h-1zM68 422h1v1h-1zM548 422h1v1h-1zM68 423h1v1h-1zM548 423h1v1h-1zM68 424h1v1h-1zM548 424h1v1h-1zM68 425h1v1h-1zM548 425h1v1h-1zM68 426h1v1h-1zM548 426h1v1h-1zM68 427h485v1h-485zM100 428h1v1h-1zM164 428h1v1h-1zM228 428h1v1h-1zM292 428h1v1h-1zM356 428h1v1h-1zM420 428h1v1h-1zM484 428h1v1h-1zM548 428h1v1h-1zM100 429h1v1h-1zM164 429h1v1h-1zM228 429h1v1h-1zM292 429h1v1h-1zM356 429h1v1h-1zM420 429h1v1h-1zM484 429h1v1h-1zM548 429h1v1h-1zM100 430h1v1h-1zM164 430h1v1h-1zM228 430h1v1h-1zM292 430h1v1h-1zM356 430h1v1h-1zM420 430h1v1h-1zM484 430h1v1h-1zM548 430h1v1h-1zM100 431h1v1h-1zM164 431h1v1h-1zM228 431h1v1h-1zM292 431h1v1h-1zM356 431h1v1h-1zM420 431h1v1h-1zM484 431h1v1h-1zM548 431h1v1h-1z" fill="#000000"/>
</g>
</svg>
</body></html>
